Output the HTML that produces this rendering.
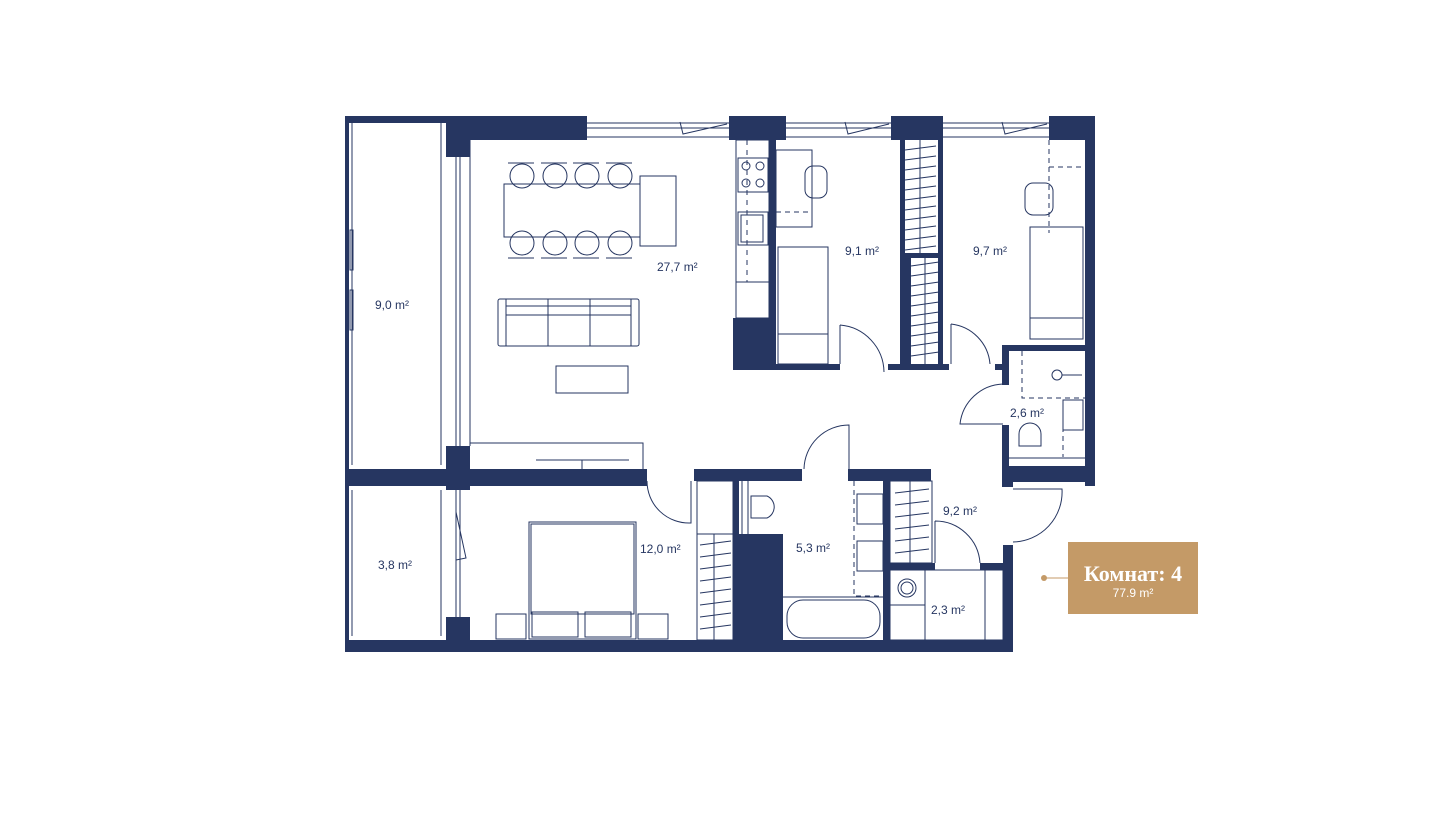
<!DOCTYPE html>
<html><head><meta charset="utf-8"><style>
html,body{margin:0;padding:0;background:#fff;width:1440px;height:825px;overflow:hidden}
svg{display:block}
.t{font-family:"Liberation Sans",sans-serif;font-size:12px;fill:#263661}
</style></head><body>
<svg width="1440" height="825" viewBox="0 0 1440 825" xmlns="http://www.w3.org/2000/svg">
<g fill="#263661">
<rect x="345" y="116" width="4" height="536"/>
<rect x="345" y="116" width="242" height="7"/>
<rect x="446" y="116" width="141" height="24"/>
<rect x="446" y="116" width="24" height="41"/>
<rect x="729" y="116" width="57" height="24"/>
<rect x="891" y="116" width="52" height="24"/>
<rect x="1049" y="116" width="46" height="24"/>
<rect x="1085" y="116" width="10" height="370"/>
<rect x="769" y="140" width="7" height="230"/>
<rect x="733" y="318" width="43" height="52"/>
<rect x="776" y="364" width="64" height="6"/>
<rect x="900" y="140" width="5" height="230"/>
<rect x="938" y="140" width="5" height="230"/>
<rect x="900" y="253" width="43" height="5"/>
<rect x="905" y="258" width="6" height="112"/>
<rect x="888" y="364" width="55" height="6"/>
<rect x="943" y="364" width="6" height="6"/>
<rect x="995" y="364" width="8" height="6"/>
<rect x="1002" y="345" width="90" height="6"/>
<rect x="1002" y="345" width="7" height="40"/>
<rect x="1002" y="425" width="7" height="62"/>
<rect x="1002" y="466" width="93" height="16"/>
<rect x="446" y="446" width="24" height="44"/>
<rect x="345" y="469" width="302" height="17"/>
<rect x="470" y="469" width="177" height="12"/>
<rect x="694" y="469" width="108" height="12"/>
<rect x="848" y="469" width="83" height="12"/>
<rect x="446" y="617" width="24" height="23"/>
<rect x="345" y="640" width="668" height="12"/>
<rect x="733" y="481" width="6" height="159"/>
<rect x="737" y="534" width="46" height="106"/>
<rect x="883" y="481" width="7" height="159"/>
<rect x="890" y="563" width="45" height="7"/>
<rect x="980" y="563" width="23" height="7"/>
<rect x="1003" y="545" width="10" height="107"/>
<rect x="1003" y="477" width="10" height="10"/>
</g>
<g fill="none" stroke="#263661" stroke-width="1">
<path d="M587 123H729M587 128H729M587 137H729M786 123H891M786 128H891M786 137H891M943 123H1049M943 128H1049M943 137H1049"/>
<path d="M680 122 L683 134 L727 124 M845 122 L848 134 L889 124 M1002 122 L1005 134 L1047 124"/>
<path d="M352 123V465M352 490V636M441 123V465M441 490V636M456 157V446M460 157V446M456 490V617M460 490V617M470 140V446"/>
<rect x="350" y="230" width="3" height="40"/><rect x="350" y="290" width="3" height="40"/>
<path d="M456 512 L466 558 L456 560"/>
<path d="M470 443H643V469"/>
<rect x="504" y="184" width="136" height="53"/>
<rect x="640" y="176" width="36" height="70"/>
<rect x="498" y="299" width="141" height="47" rx="2"/>
<path d="M506 299V346M631 299V346M506 306H631M506 315H631M548 299V346M590 299V346"/>
<rect x="556" y="366" width="72" height="27"/>
<path d="M536 460H629M548 485H612M582 460V470M582 481V485"/>
<g>
<circle cx="522" cy="176" r="12"/><circle cx="555" cy="176" r="12"/><circle cx="587" cy="176" r="12"/><circle cx="620" cy="176" r="12"/>
<circle cx="522" cy="243" r="12"/><circle cx="555" cy="243" r="12"/><circle cx="587" cy="243" r="12"/><circle cx="620" cy="243" r="12"/>
<path d="M508 163H534M541 163H567M573 163H599M606 163H632M508 258H534M541 258H567M573 258H599M606 258H632"/>
</g>
<rect x="736" y="140" width="33" height="178"/>
<rect x="738" y="158" width="30" height="34"/><circle cx="746" cy="166" r="4"/><circle cx="760" cy="166" r="4"/><circle cx="746" cy="183" r="4"/><circle cx="760" cy="183" r="4"/>
<rect x="738" y="212" width="30" height="33"/><rect x="741" y="215" width="22" height="27"/>
<path d="M736 282H769"/><path d="M747 140V282" stroke-dasharray="5 5"/>
<rect x="776" y="150" width="36" height="77"/>
<path d="M776 212H812" stroke-dasharray="5 4"/>
<rect x="805" y="166" width="22" height="32" rx="8"/>
<rect x="778" y="247" width="50" height="117"/><path d="M778 334H828"/>
<path d="M840 325 A48 48 0 0 1 884 372 M840 325V364"/>
<path d="M905 150L936 146M905 160L936 156M905 170L936 166M905 180L936 176M905 190L936 186M905 200L936 196M905 210L936 206M905 220L936 216M905 230L936 226M905 240L936 236M905 250L936 246M920 140V253"/>
<path d="M911 266L939 262M911 276L939 272M911 286L939 282M911 296L939 292M911 306L939 302M911 316L939 312M911 326L939 322M911 336L939 332M911 346L939 342M911 356L939 352M925 258V364"/>
<path d="M1049 140V233M1049 167H1083" stroke-dasharray="5 4"/>
<rect x="1025" y="183" width="28" height="32" rx="8"/>
<rect x="1030" y="227" width="53" height="112"/><path d="M1030 318H1083"/>
<path d="M951 324 A44 44 0 0 1 990 364 M951 324V364"/>
<path d="M1022 351V398H1085M1063 400V457" stroke-dasharray="5 4"/>
<circle cx="1057" cy="375" r="5"/><path d="M1062 375H1082"/>
<rect x="1063" y="400" width="20" height="30"/>
<path d="M1019 446V434 A11 11 0 0 1 1041 434V446Z M1009 458H1085"/>
<path d="M1003 384 A45 45 0 0 0 960 424H1003"/>
<rect x="529" y="522" width="107" height="117"/><rect x="531" y="524" width="103" height="90"/>
<rect x="532" y="612" width="46" height="25"/><rect x="585" y="612" width="46" height="25"/>
<rect x="496" y="614" width="30" height="25"/><rect x="638" y="614" width="30" height="25"/>
<path d="M647 481 A42 42 0 0 0 691 523 V481"/>
<rect x="697" y="481" width="36" height="159"/><path d="M697 534H733M714 534V640"/>
<path d="M700 545L731 541M700 557L731 553M700 569L731 565M700 581L731 577M700 593L731 589M700 605L731 601M700 617L731 613M700 629L731 625"/>
<path d="M742 481V534M748 481V534"/><path d="M751 496H767A12 12 0 0 1 767 518H751Z"/>
<path d="M804 469 A45 45 0 0 1 849 425V469"/>
<path d="M854 481V596H883" stroke-dasharray="5 4"/>
<rect x="857" y="494" width="26" height="30"/><rect x="857" y="541" width="26" height="30"/>
<path d="M783 597H883"/><rect x="787" y="600" width="93" height="38" rx="16"/>
<rect x="890" y="481" width="42" height="82"/><path d="M910 481V563"/>
<path d="M895 493L929 489M895 505L929 501M895 517L929 513M895 529L929 525M895 541L929 537M895 553L929 549"/>
<path d="M935 521V563M935 521 A45 45 0 0 1 980 563"/>
<rect x="890" y="570" width="113" height="70"/><path d="M925 570V640M890 605H925M985 570V640"/>
<circle cx="907" cy="588" r="9"/><circle cx="907" cy="588" r="6"/>
<path d="M1013 489H1062 A50 50 0 0 1 1013 542"/>
</g>
<text class="t" x="375" y="309">9,0 m²</text>
<text class="t" x="657" y="271">27,7 m²</text>
<text class="t" x="845" y="255">9,1 m²</text>
<text class="t" x="973" y="255">9,7 m²</text>
<text class="t" x="1010" y="417">2,6 m²</text>
<text class="t" x="378" y="569">3,8 m²</text>
<text class="t" x="640" y="553">12,0 m²</text>
<text class="t" x="796" y="552">5,3 m²</text>
<text class="t" x="943" y="515">9,2 m²</text>
<text class="t" x="931" y="614">2,3 m²</text>
<line x1="1044" y1="578" x2="1068" y2="578" stroke="#c49a67" stroke-width="1"/>
<circle cx="1044" cy="578" r="3" fill="#c49a67"/>
<rect x="1068" y="542" width="130" height="72" fill="#c49a67"/>
<text x="1133" y="581" text-anchor="middle" font-family="Liberation Serif,serif" font-weight="bold" font-size="22" fill="#fff">Комнат: 4</text>
<text x="1133" y="597" text-anchor="middle" font-family="Liberation Sans,sans-serif" font-size="12" fill="#fff">77.9 m²</text>
</svg>
</body></html>
